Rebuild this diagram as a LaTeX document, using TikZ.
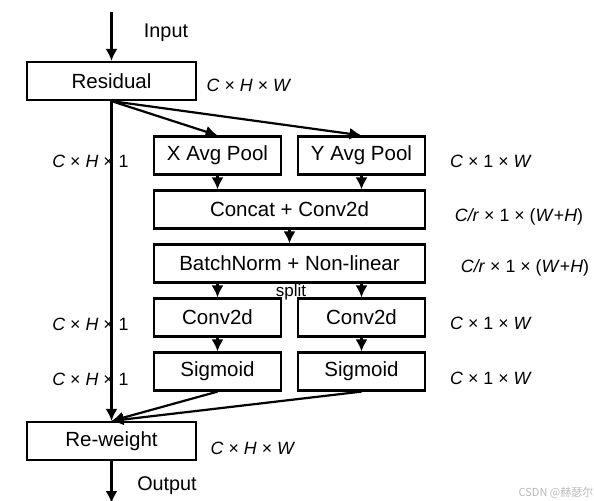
\documentclass[tikz,border=0pt]{standalone}
\usepackage{fontspec}
\setmainfont{Liberation Sans}
\newfontfamily\cjkfont{Noto Sans CJK SC}
\usetikzlibrary{arrows.meta}

\begin{document}
\begin{tikzpicture}[x=0.5pt, y=-0.5pt, node distance=27pt, line width=1.1pt, >={Latex[length=6pt,width=6pt]},
	box/.style={draw, line width=1.1pt, minimum height=19pt, inner sep=0pt, font=\fontsize{10.25pt}{12pt}\selectfont},
	small/.style={box, minimum width=63.5pt},
	wide/.style={box, minimum width=135.5pt},
	outer/.style={box, minimum width=84.5pt},
	dim/.style={inner sep=0pt, font=\fontsize{8.9pt}{10pt}\selectfont},
	io/.style={inner sep=0pt, font=\fontsize{9.9pt}{11pt}\selectfont},
	every edge/.style={draw, line width=1.1pt}]
	\useasboundingbox (0,0) rectangle (594,500);

	\node[outer] (residual) at (111.5,81) {Residual};
	\node[small] (xpool) at (217.5,155.5) {X Avg Pool};
	\node[small, right of=xpool, node distance=72pt] (ypool) {Y Avg Pool};
	\node[wide, below of=xpool, xshift=36pt] (concat) {Concat + Conv2d};
	\node[wide, below of=concat] (bn) {BatchNorm + Non-linear};
	\node[small, below of=bn, xshift=-36pt] (convx) {Conv2d};
	\node[small, right of=convx, node distance=72pt] (convy) {Conv2d};
	\node[small, below of=convx] (sigx) {Sigmoid};
	\node[small, below of=convy] (sigy) {Sigmoid};
	\node[outer] (reweight) at (111.5,441) {Re-weight};

	\coordinate (in) at (111.5,12);
	\coordinate (out) at (111.5,503);

	\node[io] (intxt) at (166,33) {Input};
	\node[io] (outtxt) at (167,486) {Output};
	\node[inner sep=0pt, font=\fontsize{8.5pt}{9pt}\selectfont] (split) at (291,292) {split};

	\node[dim] (d1) at (249,85) {\textit{C} × \textit{H} × \textit{W}};
	\node[dim] (d2) at (90.5,161) {\textit{C} × \textit{H} × 1};
	\node[dim] (d3) at (491,161) {\textit{C} × 1 × \textit{W}};
	\node[dim] (d4) at (519,217) {\textit{C/r} × 1 × (\textit{W}+\textit{H})};
	\node[dim] (d5) at (525,268) {\textit{C/r} × 1 × (\textit{W}+\textit{H})};
	\node[dim] (d6) at (90.5,324) {\textit{C} × \textit{H} × 1};
	\node[dim] (d7) at (491,323) {\textit{C} × 1 × \textit{W}};
	\node[dim] (d8) at (90.5,379) {\textit{C} × \textit{H} × 1};
	\node[dim] (d9) at (491,378) {\textit{C} × 1 × \textit{W}};
	\node[dim] (d10) at (253,448) {\textit{C} × \textit{H} × \textit{W}};

	\node[inner sep=0pt, text=gray!55, font=\cjkfont\fontsize{5.5pt}{6pt}\selectfont] (csdn) at (556,493) {CSDN @赫瑟尔};

	\path (in) edge[->] (residual);
	\path (residual) edge[->] (reweight);
	\path (residual.south) edge[->] (xpool.north);
	\path (residual.south) edge[->] (ypool.north);
	\path (xpool) edge[->] (xpool |- concat.north);
	\path (ypool) edge[->] (ypool |- concat.north);
	\path (concat) edge[->] (bn);
	\path (convx |- bn.south) edge[->] (convx);
	\path (convy |- bn.south) edge[->] (convy);
	\path (convx) edge[->] (sigx);
	\path (convy) edge[->] (sigy);
	\path (sigx.south) edge[->] (reweight.north);
	\path (sigy.south) edge[->] (reweight.north);
	\path (reweight) edge[->] (out);
\end{tikzpicture}
\end{document}
